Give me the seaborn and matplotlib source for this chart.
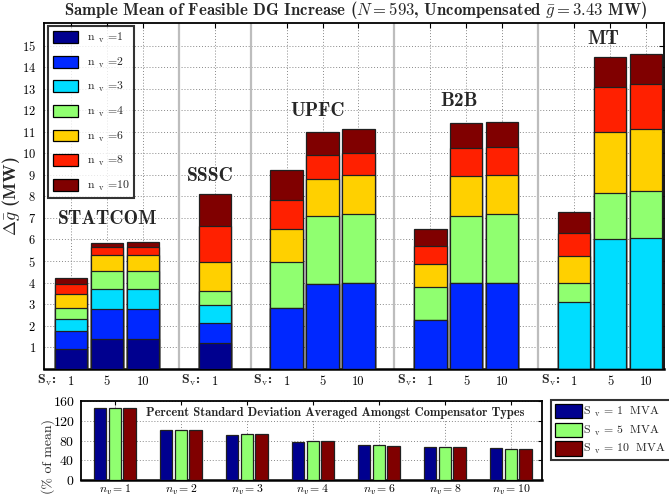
import numpy as np
import pandas as pd
import matplotlib
matplotlib.use("Agg")
import matplotlib.pyplot as plt
from matplotlib.patches import Patch
from matplotlib.transforms import blended_transform_factory
import seaborn as sns

# ---- main panel: mean feasible DG increase per compensator / rating ----
bar_pos = [1, 2, 3, 5, 7, 8, 9, 11, 12, 13, 15, 16, 17]
bar_labels = ["1", "5", "10", "1", "1", "5", "10", "1", "5", "10", "1", "5", "10"]
group_names = ["STATCOM", "SSSC", "UPFC", "B2B", "MT"]
group_x = [2.02, 4.88, 7.85, 11.8, 15.8]
group_y = [6.94, 8.95, 11.97, 12.45, 15.3]
group_first = [1, 5, 7, 11, 15]
separators = [4, 6, 10, 14]

nv_levels = [1, 2, 3, 4, 6, 8, 10]
dg_nv1 = [0.92, 1.38, 1.38, 1.18, 0, 0, 0, 0, 0, 0, 0, 0, 0]
dg_nv2 = [1.77, 2.77, 2.77, 2.11, 2.80, 3.92, 3.98, 2.28, 3.97, 3.98, 0, 0, 0]
dg_nv3 = [2.31, 3.69, 3.69, 2.94, 2.80, 3.92, 3.98, 2.28, 3.97, 3.98, 3.10, 6.04, 6.07]
dg_nv4 = [2.80, 4.52, 4.52, 3.59, 4.94, 7.09, 7.19, 3.78, 7.08, 7.17, 3.97, 8.16, 8.24]
dg_nv6 = [3.45, 5.27, 5.27, 4.94, 6.49, 8.83, 8.97, 4.85, 8.95, 9.00, 5.25, 10.98, 11.12]
dg_nv8 = [3.92, 5.64, 5.64, 6.61, 7.84, 9.91, 10.03, 5.71, 10.25, 10.28, 6.29, 13.08, 13.24]
dg_nv10 = [4.23, 5.85, 5.87, 8.13, 9.21, 11.01, 11.12, 6.47, 11.40, 11.44, 7.26, 14.46, 14.63]
dg_series = [dg_nv1, dg_nv2, dg_nv3, dg_nv4, dg_nv6, dg_nv8, dg_nv10]
nv_colors = ["#00008F", "#0028FF", "#00DDFF", "#90FF70", "#FFD000", "#FF2000", "#800000"]

# ---- lower panel: percent standard deviation averaged over compensators ----
sd_groups = ["$n_v = 1$", "$n_v = 2$", "$n_v = 3$", "$n_v = 4$",
             "$n_v = 6$", "$n_v = 8$", "$n_v = 10$"]
sd_sv1 = [145, 102, 92, 77, 70, 67, 64]
sd_sv5 = [145, 101, 94, 78, 70, 66, 62]
sd_sv10 = [145, 101, 94, 79, 69, 67, 62]
sv_names = [r"S $_{\rm v}$ = 1  MVA", r"S $_{\rm v}$ = 5  MVA", r"S $_{\rm v}$ = 10  MVA"]
sv_colors = ["#00008F", "#90FF70", "#800000"]

sns.set_theme(style="white")
plt.rcParams["font.family"] = ["cmr10"]
plt.rcParams["mathtext.fontset"] = "cm"
plt.rcParams["axes.unicode_minus"] = False
plt.rcParams["axes.formatter.use_mathtext"] = True

W, H = 669, 499
fig = plt.figure(figsize=(W / 100, H / 100), dpi=100)

def box(l, t, r, b):
    return [l / W, 1 - b / H, (r - l) / W, (b - t) / H]

ax = fig.add_axes(box(44.3, 23, 664, 368.7))
ax2 = fig.add_axes(box(81, 401, 542, 480))

grid_kw = dict(color="#888888", linestyle=(0, (1, 2)), linewidth=0.7)
edge = "#202020"

# overlapping bars: largest n_v first, smaller ones drawn on top
for vals, col in zip(dg_series[::-1], nv_colors[::-1]):
    sns.barplot(x=bar_pos, y=vals, orient="x", native_scale=True, width=0.9,
                color=col, saturation=1, edgecolor=edge, linewidth=0.9,
                errorbar=None, ax=ax, zorder=3)

for s in separators:
    ax.axvline(s, color="#bdbdbd", linewidth=1.6, zorder=1)

ax.set_xlim(0.26, 17.5)
ax.set_ylim(0, 16.05)
ax.set_yticks(range(1, 16))
ax.set_xticks(bar_pos)
ax.set_xticklabels(bar_labels)
ax.set_axisbelow(True)
ax.grid(True, **grid_kw)
ax.tick_params(direction="in", length=3.5, width=0.8, top=True, right=True,
               labelsize=9, colors="black")
ax.tick_params(axis="y", pad=6)
ax.tick_params(axis="x", pad=5)
for sp in ax.spines.values():
    sp.set_color("black")
    sp.set_linewidth(1.3)
ax.spines["bottom"].set_linewidth(1.8)
ax.set_xlabel("")
ax.set_ylabel(r"$\Delta\bar{g}$ (MW)", fontsize=13, family="cmb10", va="center")
ax.yaxis.set_label_coords(-0.053, 0.5)

for name, gx, gy in zip(group_names, group_x, group_y):
    ax.text(gx, gy, name, ha="center", va="center", fontsize=14, family="cmb10", zorder=5)

trans = blended_transform_factory(ax.transData, ax.transAxes)
for gx in group_first:
    ax.text(gx - 0.39, -0.034, r"S$_{\rm v}$:", transform=trans, ha="right", va="center",
            fontsize=10, family="cmb10")

handles = [Patch(facecolor=c, edgecolor="black", linewidth=0.9) for c in nv_colors]
labels = [r"n $_{\rm v}$ =%d" % n for n in nv_levels]
leg = ax.legend(handles, labels, loc="upper left", bbox_to_anchor=(0.006, 0.991),
                fontsize=8.5, frameon=True, fancybox=False, edgecolor="black",
                handlelength=2.15, handleheight=1.15, labelspacing=0.9,
                handletextpad=0.7, borderpad=0.42, borderaxespad=0.0)
leg.get_frame().set_linewidth(1.5)
leg.set_zorder(10)

fig.text(356 / W, 1 - 10 / H,
         r"Sample Mean of Feasible DG Increase ($N = 593$, Uncompensated $\bar{g} = 3.43$ MW)",
         ha="center", va="center", fontsize=12, family="cmb10")

# lower panel
sd_df = pd.DataFrame({
    "group": sd_groups * 3,
    "rating": sum([[n] * len(sd_groups) for n in sv_names], []),
    "pct": sd_sv1 + sd_sv5 + sd_sv10,
})
sns.barplot(data=sd_df, x="group", y="pct", hue="rating", palette=sv_colors,
            saturation=1, width=0.667, gap=0.16, edgecolor=edge, linewidth=0.9,
            errorbar=None, legend=False, ax=ax2, zorder=3)
ax2.set_xlim(-0.51, 6.47)
ax2.set_ylim(0, 160)
ax2.set_yticks([0, 40, 80, 120, 160])
ax2.set_axisbelow(True)
ax2.grid(True, **grid_kw)
ax2.tick_params(direction="in", length=3, width=0.8, top=True, right=True, colors="black")
ax2.tick_params(axis="y", labelsize=10, pad=4.5)
ax2.tick_params(axis="x", labelsize=8.5, pad=2.5)
for sp in ax2.spines.values():
    sp.set_color("black")
    sp.set_linewidth(1.3)
ax2.spines["bottom"].set_linewidth(1.8)
ax2.set_xlabel("")
ax2.set_ylabel("(% of mean)", fontsize=10, va="center")
ax2.yaxis.set_label_coords(-0.072, 0.3)
ax2.text(0.551, 0.844, "Percent Standard Deviation Averaged Amongst Compensator Types",
         transform=ax2.transAxes, ha="center", va="center", fontsize=9, family="cmb10",
         bbox=dict(facecolor="white", edgecolor="none", pad=1.0), zorder=6)

sv_handles = [Patch(facecolor=c, edgecolor="black", linewidth=0.9) for c in sv_colors]
leg2 = fig.legend(sv_handles, [s + "  " for s in sv_names], loc="upper left",
                  bbox_to_anchor=(551 / W, 1 - 400 / H), fontsize=8.5,
                  frameon=True, fancybox=False, edgecolor="black",
                  handlelength=2.25, handleheight=1.5, labelspacing=0.3,
                  handletextpad=0.12, borderpad=0.34, borderaxespad=0.0)
leg2.get_frame().set_linewidth(1.5)

fig.savefig("out.png", dpi=100)
